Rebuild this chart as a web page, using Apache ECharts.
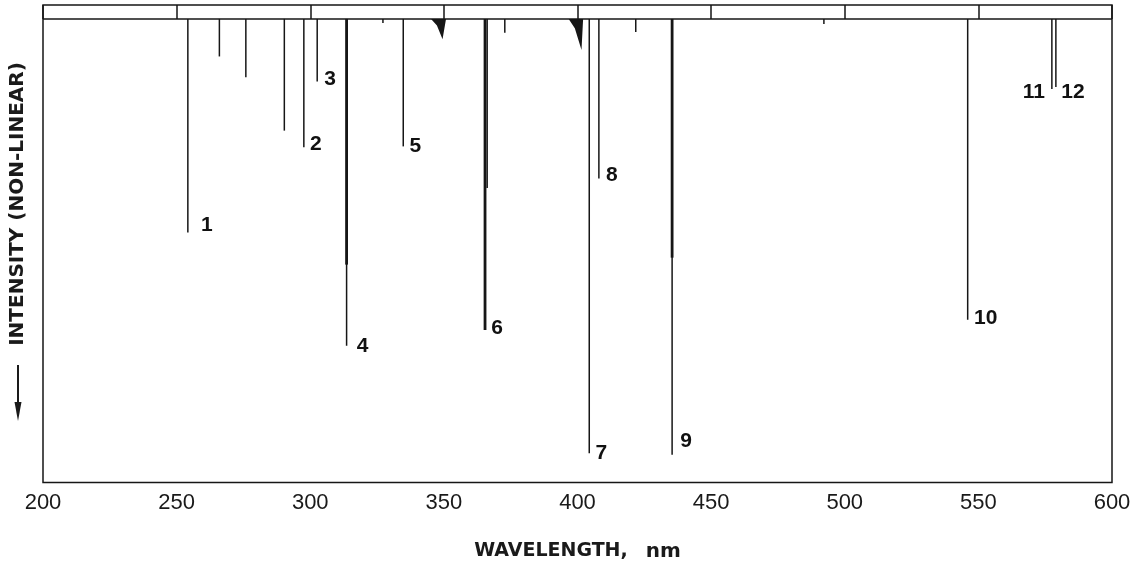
<!DOCTYPE html>
<html>
<head>
<meta charset="utf-8">
<script src="https://cdn.jsdelivr.net/npm/echarts@6/dist/echarts.min.js"></script>
<style>
html,body{margin:0;padding:0;background:#fff;}
#chart{width:1134px;height:567px;}
</style>
</head>
<body>
<div id="chart"></div>
<script>
// Spectral lines: wavelength (nm) and depth below baseline (non-linear intensity units)
const lineNm    = [254.2, 266.0, 275.9, 290.3, 297.6, 302.6, 313.6, 327.2, 334.8, 365.4, 366.2, 372.8, 404.4, 408.0, 421.8, 435.4, 492.2, 546.0, 577.5, 579.0];
const lineDepth = [46.1,   8.1,  12.6,  24.1,  27.7,  13.5,  70.5,   0.9,  27.5,  67.1,  36.5,   3.0,  93.7,  34.4,   2.8,  94.0,   1.1,  64.9,  15.1,  14.7];
// Saturated (heavy) upper part of the strongest lines
const coreNm    = [313.6, 365.4, 435.4];
const coreDepth = [53.0,  67.1,  51.5];
// Broad band features (outline points: wavelength, depth)
const band350 = [[345.2, 0], [347.4, 1.4], [349.5, 4.4], [350.8, 0]];
const band400 = [[396.7, 0], [399.0, 2.0], [401.5, 6.7], [402.1, 0]];
const bands = [band350, band400];
// Numbered line labels
const labelText = ['1', '2', '3', '4', '5', '6', '7', '8', '9', '10', '11', '12'];
const labelNm   = [254.2, 297.6, 302.6, 313.6, 334.8, 365.4, 404.4, 408.0, 435.4, 546.0, 577.5, 579.0];
const labelDepth= [46.1, 27.7, 13.5, 70.5, 27.5, 67.1, 93.7, 34.4, 94.0, 64.9, 15.1, 14.7];
// Axis
const xTicks = [200, 250, 300, 350, 400, 450, 500, 550, 600];

// Layout of label offsets (pixels) relative to line end
const labelOffset = [[19,-7],[12,-3],[13,-2],[16,0],[12,0],[12,-2],[12,0],[13,-3],[14,-13],[18,-2],[-18,3],[17,5]];

const INK = '#161616';
const chart = echarts.init(document.getElementById('chart'), null, {renderer: 'canvas'});

const option = {
  backgroundColor: '#fff',
  animation: false,
  grid: {left: 43, right: 22, top: 5, bottom: 84.5, show: true, borderColor: INK, borderWidth: 1.5, backgroundColor: 'transparent'},
  xAxis: [{
    type: 'value', position: 'bottom', min: xTicks[0], max: xTicks[xTicks.length - 1], interval: 50,
    axisLine: {show: false},
    axisTick: {show: true, inside: true, length: 12, lineStyle: {color: INK, width: 1.5}},
    axisLabel: {show: true, margin: 9, color: '#1a1a1a', fontSize: 22, fontFamily: 'Liberation Sans'},
    splitLine: {show: false},
    name: '{a|WAVELENGTH,}{b|nm}', nameLocation: 'middle', nameGap: 59,
    nameTextStyle: {rich: {
      a: {fontFamily: 'DejaVu Sans', fontWeight: 'bold', fontSize: 19, color: '#1a1a1a'},
      b: {fontFamily: 'DejaVu Sans', fontWeight: 'bold', fontSize: 20, color: '#1a1a1a', padding: [0, 0, 0, 18]}
    }}
  }, {
    type: 'value', position: 'top', min: xTicks[0], max: xTicks[xTicks.length - 1], interval: 50,
    axisLine: {show: false},
    axisTick: {show: true, inside: true, length: 14, lineStyle: {color: INK, width: 1.5}},
    axisLabel: {show: false},
    splitLine: {show: false}
  }],
  yAxis: {
    type: 'value', inverse: true, min: -3, max: 100,
    axisLine: {show: false}, axisTick: {show: false}, axisLabel: {show: false}, splitLine: {show: false}
  },
  graphic: [
    {type: 'text', x: 18, y: 204, rotation: Math.PI / 2,
     style: {text: 'INTENSITY (NON-LINEAR)', fill: '#1a1a1a', font: 'bold 20px "DejaVu Sans"', align: 'center', verticalAlign: 'middle'}},
    {type: 'line', shape: {x1: 18, y1: 365, x2: 18, y2: 410}, style: {stroke: '#1a1a1a', lineWidth: 2}},
    {type: 'polygon', shape: {points: [[14.5, 402], [21.5, 402], [18, 421]]}, style: {fill: '#1a1a1a'}}
  ],
  series: [
    {
      type: 'custom', xAxisIndex: 0, yAxisIndex: 0,
      data: lineNm.map((nm, i) => [nm, lineDepth[i]]),
      renderItem: function (params, api) {
        const p0 = api.coord([api.value(0), 0]);
        const p1 = api.coord([api.value(0), api.value(1)]);
        return {type: 'line', shape: {x1: p0[0], y1: p0[1], x2: p1[0], y2: p1[1]}, style: {stroke: INK, lineWidth: 1.5}};
      },
      markLine: {
        silent: true, symbol: 'none', label: {show: false},
        lineStyle: {color: INK, width: 1.5, type: 'solid'},
        data: [{yAxis: 0}]
      }
    },
    {
      type: 'custom', xAxisIndex: 0, yAxisIndex: 0,
      data: coreNm.map((nm, i) => [nm, coreDepth[i]]),
      renderItem: function (params, api) {
        const p0 = api.coord([api.value(0), 0]);
        const p1 = api.coord([api.value(0), api.value(1)]);
        return {type: 'line', shape: {x1: p0[0], y1: p0[1], x2: p1[0], y2: p1[1]}, style: {stroke: INK, lineWidth: 2.8}};
      }
    },
    {
      type: 'custom', xAxisIndex: 0, yAxisIndex: 0,
      data: bands.map(b => [b[2][0], b[2][1]]),
      renderItem: function (params, api) {
        const pts = bands[params.dataIndex].map(p => api.coord(p));
        return {type: 'polygon', shape: {points: pts}, style: {fill: INK}};
      }
    },
    {
      type: 'custom', xAxisIndex: 0, yAxisIndex: 0,
      data: labelNm.map((nm, i) => [nm, labelDepth[i]]),
      renderItem: function (params, api) {
        const p = api.coord([api.value(0), api.value(1)]);
        const off = labelOffset[params.dataIndex];
        return {type: 'text', x: p[0] + off[0], y: p[1] + off[1],
          style: {text: labelText[params.dataIndex], fill: '#111', font: 'bold 21px "Liberation Sans"', align: 'center', verticalAlign: 'middle'}};
      }
    }
  ]
};
chart.setOption(option);
</script>
</body>
</html>
